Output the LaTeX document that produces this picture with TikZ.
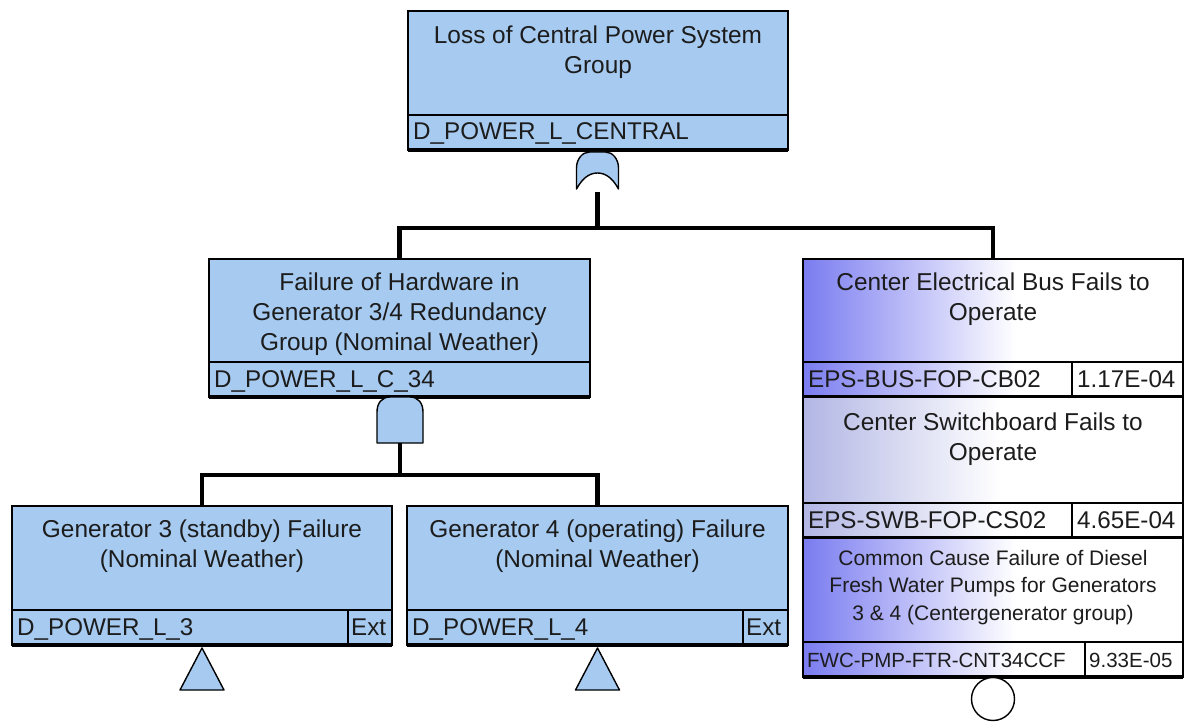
\documentclass[tikz,border=0pt]{standalone}
\usepackage{fontspec}
\setmainfont{Liberation Sans}
\usetikzlibrary{calc}

\definecolor{skyfill}{HTML}{A6CAF0}
\definecolor{evA}{HTML}{7A7CF0}
\definecolor{evB}{HTML}{B2B6E4}
\definecolor{ink}{HTML}{1C1C1C}

% basic-event fill: blue on the left edge fading to white past the middle
\pgfdeclarehorizontalshading{evfadeA}{100bp}{color(0bp)=(evA); color(25bp)=(evA); color(53bp)=(white); color(100bp)=(white)}
\pgfdeclarehorizontalshading{evfadeB}{100bp}{color(0bp)=(evB); color(25bp)=(evB); color(51bp)=(white); color(100bp)=(white)}

\tikzset{
  ftbox/.style={draw=black, line width=1.3pt, inner sep=0pt, outer sep=0pt, anchor=north west},
  gatebox/.style={ftbox, fill=skyfill},
  titletext/.style={anchor=north, inner sep=0pt, align=center, text=ink, font=\fontsize{24.4}{30}\selectfont},
  smalltitle/.style={titletext, font=\fontsize{21}{27.5}\selectfont},
  idtext/.style={anchor=base west, inner sep=0pt, text=ink, font=\fontsize{24.2}{30}\selectfont},
  idsmall/.style={idtext, font=\fontsize{20.5}{25}\selectfont},
  rowline/.style={draw=black, line width=1.3pt},
  basebar/.style={draw=black, line width=3.6pt},
  link/.style={draw=black, line width=4.5pt},
  gateshape/.style={draw=black, line width=1.4pt, fill=skyfill, line join=round},
}

\begin{document}
\begin{tikzpicture}[x=1pt, y=-1pt]
\useasboundingbox (0,0) rectangle (1184,722);

% ---------- top event ----------
\node[gatebox, minimum width=380pt, minimum height=139pt] (top) at (408,11) {};
\draw[rowline] ([yshift=35pt]top.south west) -- ([yshift=35pt]top.south east);
\node[titletext] (topT) at ($(top.north)+(0,11)$) {\strut Loss of Central Power System\\\strut Group};
\node[idtext] (topI) at ($(top.south west)+(5,-10)$) {D\_POWER\_L\_CENTRAL};
\draw[basebar] (top.south west) -- (top.south east);

% ---------- intermediate gate ----------
\node[gatebox, minimum width=381pt, minimum height=138pt] (mid) at (209,259) {};
\draw[rowline] ([yshift=35pt]mid.south west) -- ([yshift=35pt]mid.south east);
\node[titletext] (midT) at ($(mid.north)+(0,10)$) {\strut Failure of Hardware in\\\strut Generator 3/4 Redundancy\\\strut Group (Nominal Weather)};
\node[idtext] (midI) at ($(mid.south west)+(5,-10)$) {D\_POWER\_L\_C\_34};
\draw[basebar] (mid.south west) -- (mid.south east);

% ---------- transfer events ----------
\node[gatebox, minimum width=380pt, minimum height=139pt] (g3) at (12,506) {};
\draw[rowline] ([yshift=35pt]g3.south west) -- ([yshift=35pt]g3.south east);
\draw[rowline] ([xshift=-44pt]g3.south east) -- ([xshift=-44pt,yshift=35pt]g3.south east);
\node[titletext] (g3T) at ($(g3.north)+(0,10)$) {\strut Generator 3 (standby) Failure\\\strut (Nominal Weather)};
\node[idtext] (g3I) at ($(g3.south west)+(5,-10)$) {D\_POWER\_L\_3};
\node[idtext] (g3E) at ($(g3.south east)+(-41,-10)$) {Ext};
\draw[basebar] (g3.south west) -- (g3.south east);

\node[gatebox, minimum width=381pt, minimum height=139pt] (g4) at (407,506) {};
\draw[rowline] ([yshift=35pt]g4.south west) -- ([yshift=35pt]g4.south east);
\draw[rowline] ([xshift=-45pt]g4.south east) -- ([xshift=-45pt,yshift=35pt]g4.south east);
\node[titletext] (g4T) at ($(g4.north)+(0,10)$) {\strut Generator 4 (operating) Failure\\\strut (Nominal Weather)};
\node[idtext] (g4I) at ($(g4.south west)+(5,-10)$) {D\_POWER\_L\_4};
\node[idtext] (g4E) at ($(g4.south east)+(-42,-10)$) {Ext};
\draw[basebar] (g4.south west) -- (g4.south east);

% ---------- basic events (right column) ----------
\node[ftbox, shade, shading=evfadeA, minimum width=380pt, minimum height=138pt] (bus) at (803,259) {};
\draw[rowline, fill=white] ([xshift=-111pt]bus.south east) rectangle ([yshift=35pt]bus.south east);
\draw[rowline] ([yshift=35pt]bus.south west) -- ([yshift=35pt]bus.south east);
\node[titletext] (busT) at ($(bus.north)+(0,10)$) {\strut Center Electrical Bus Fails to\\\strut Operate};
\node[idtext] (busI) at ($(bus.south west)+(5,-10)$) {EPS-BUS-FOP-CB02};
\node[idtext] (busV) at ($(bus.south east)+(-106,-10)$) {1.17E-04};
\draw[basebar] (bus.south west) -- (bus.south east);

\node[ftbox, shade, shading=evfadeB, minimum width=380pt, minimum height=141pt] (swb) at (803,397) {};
\draw[rowline, fill=white] ([xshift=-111pt]swb.south east) rectangle ([yshift=35pt]swb.south east);
\draw[rowline] ([yshift=35pt]swb.south west) -- ([yshift=35pt]swb.south east);
\node[titletext] (swbT) at ($(swb.north)+(0,12)$) {\strut Center Switchboard Fails to\\\strut Operate};
\node[idtext] (swbI) at ($(swb.south west)+(5,-10)$) {EPS-SWB-FOP-CS02};
\node[idtext] (swbV) at ($(swb.south east)+(-106,-10)$) {4.65E-04};
\draw[basebar] (swb.south west) -- (swb.south east);

\node[ftbox, shade, shading=evfadeA, minimum width=380pt, minimum height=139pt] (fwc) at (803,538) {};
\draw[rowline, fill=white] ([xshift=-98pt]fwc.south east) rectangle ([yshift=35pt]fwc.south east);
\draw[rowline] ([yshift=35pt]fwc.south west) -- ([yshift=35pt]fwc.south east);
\node[smalltitle] (fwcT) at ($(fwc.north)+(0,8)$) {\strut Common Cause Failure of Diesel\\\strut Fresh Water Pumps for Generators\\\strut 3 \& 4 (Centergenerator group)};
\node[idsmall] (fwcI) at ($(fwc.south west)+(4,-10)$) {FWC-PMP-FTR-CNT34CCF};
\node[idsmall] (fwcV) at ($(fwc.south east)+(-94,-10)$) {9.33E-05};
\draw[basebar] (fwc.south west) -- (fwc.south east);

% ---------- logic gates ----------
% OR gate under the top event
\begin{scope}[shift={(597.5,152)}]
  \draw[gateshape] (-21,37) -- (-21,16) .. controls (-21,7) and (-15,0) .. (-8,0)
    -- (8,0) .. controls (15,0) and (21,7) .. (21,16) -- (21,37)
    .. controls (15,26) and (8,21) .. (0,21) .. controls (-8,21) and (-15,26) .. (-21,37) -- cycle;
  \coordinate (orOut) at (0,40);
\end{scope}
% AND gate under the intermediate event
\begin{scope}[shift={(400,397)}]
  \draw[gateshape] (-23,46) -- (-23,15) .. controls (-23,6) and (-18,0) .. (-10,0)
    -- (10,0) .. controls (18,0) and (23,6) .. (23,15) -- (23,46) -- cycle;
  \coordinate (andOut) at (0,46);
\end{scope}

% transfer triangles and basic-event circle
\draw[gateshape] (g3.south) ++(0,3) -- ++(22,42) -- ++(-44,0) -- cycle;
\draw[gateshape] (g4.south) ++(0,3) -- ++(22,42) -- ++(-44,0) -- cycle;
\draw[draw=black, line width=1.4pt, fill=white] ($(fwc.south)+(0,22)$) circle[radius=21.5];

% ---------- connectors ----------
\coordinate (busA) at (597.5,228);
\coordinate (busB) at (400,475);
\draw[link] (orOut) -- (busA);
\draw[link] (mid.north) |- (busA) -| (bus.north);
\draw[link] (andOut) -- (busB);
\draw[link] (g3.north) |- (busB) -| (g4.north);
\end{tikzpicture}
\end{document}
